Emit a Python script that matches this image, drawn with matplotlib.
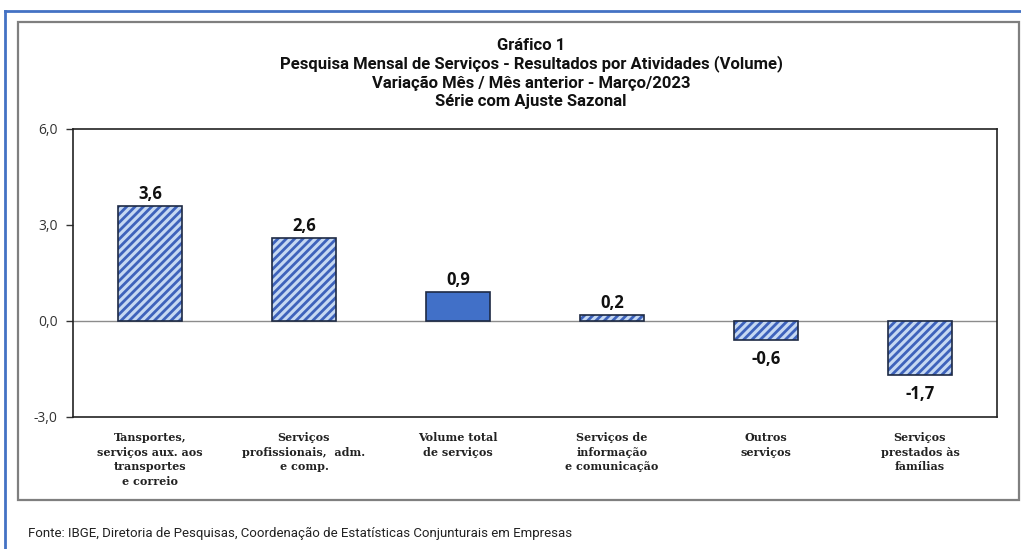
import matplotlib
matplotlib.use("Agg")
import matplotlib.pyplot as plt
from matplotlib.patches import Rectangle
from matplotlib.lines import Line2D

categories = ["Tansportes,\nserviços aux. aos\ntransportes\ne correio",
              "Serviços\nprofissionais,  adm.\ne comp.",
              "Volume total\nde serviços",
              "Serviços de\ninformação\ne comunicação",
              "Outros\nserviços",
              "Serviços\nprestados às\nfamílias"]
values = [3.6, 2.6, 0.9, 0.2, -0.6, -1.7]
value_labels = ["3,6", "2,6", "0,9", "0,2", "-0,6", "-1,7"]
yticks = [-3.0, 0.0, 3.0, 6.0]
ytick_labels = ["-3,0", "0,0", "3,0", "6,0"]
title_lines = ["Gráfico 1",
               "Pesquisa Mensal de Serviços - Resultados por Atividades (Volume)",
               "Variação Mês / Mês anterior - Março/2023",
               "Série com Ajuste Sazonal"]
source = "Fonte: IBGE, Diretoria de Pesquisas, Coordenação de Estatísticas Conjunturais em Empresas"

W, H = 1021, 549
plt.rcParams['hatch.linewidth'] = 2.0
fig = plt.figure(figsize=(W/100, H/100), dpi=100)
fig.patch.set_facecolor("white")

def fx(px): return px / W
def fy(py): return 1 - py / H

# outer blue frame
fig.add_artist(Line2D([fx(5), fx(5)], [fy(11), 0], color="#4472c4", lw=2))
fig.add_artist(Line2D([fx(5), 1], [fy(11), fy(11)], color="#4472c4", lw=2))
# inner gray box
fig.add_artist(Rectangle((fx(18), fy(500)), fx(1019) - fx(18), fy(22) - fy(500),
                         fill=False, edgecolor="#7f7f7f", lw=1.6))

ax = fig.add_axes([fx(73), fy(417), fx(997) - fx(73), fy(129) - fy(417)])
x = list(range(len(categories)))
hatched_fill = "#c5d8f2"
hatch_col = "#3d62bb"
solid = "#4170c8"
for i, v in enumerate(values):
    if i == 2:
        ax.bar(i, v, width=0.41, color=solid, edgecolor="#1e2a44", lw=1.2, zorder=3)
    else:
        ax.bar(i, v, width=0.41, color=hatched_fill, edgecolor=hatch_col, hatch="////",
               lw=0, zorder=3)
        ax.bar(i, v, width=0.41, fill=False, edgecolor="#1e2a44", lw=1.2, zorder=4)
    off = 2 if v >= 0 else -7
    ax.annotate(value_labels[i], (i, v), xytext=(0, off), textcoords="offset points",
                ha="center", va="bottom" if v >= 0 else "top",
                fontsize=12, fontweight="bold", family=["Open Sans", "DejaVu Sans"],
                color="#111111")

ax.axhline(0, color="#8c8c8c", lw=1, zorder=2)
ax.set_xlim(-0.5, len(categories) - 0.5)
ax.set_ylim(-3, 6)
ax.set_yticks(yticks)
ax.set_yticklabels(ytick_labels, family=["Open Sans", "DejaVu Sans"], fontsize=10, color="#333333")
ax.tick_params(axis="y", direction="out", length=5, width=1, color="#333333", pad=6)
ax.set_xticks(x)
ax.set_xticklabels(categories, family=["DejaVu Serif"], fontweight="bold", fontsize=8,
                   color="#222222", linespacing=1.4, va="top")
ax.tick_params(axis="x", length=0, pad=11)
for s in ax.spines.values():
    s.set_color("#222222")
    s.set_linewidth(1.2)

narrow = ["Roboto", "DejaVu Sans"]
ys = [45, 64, 83, 101]
for t, yy in zip(title_lines, ys):
    fig.text(fx(531), fy(yy), t, ha="center", va="center", fontsize=12,
             fontweight="bold", family=narrow, color="#111111")

fig.text(fx(28), fy(533), source, ha="left", va="center", fontsize=9.5,
         family=narrow, color="#222222")

fig.savefig("out.png", dpi=100)
